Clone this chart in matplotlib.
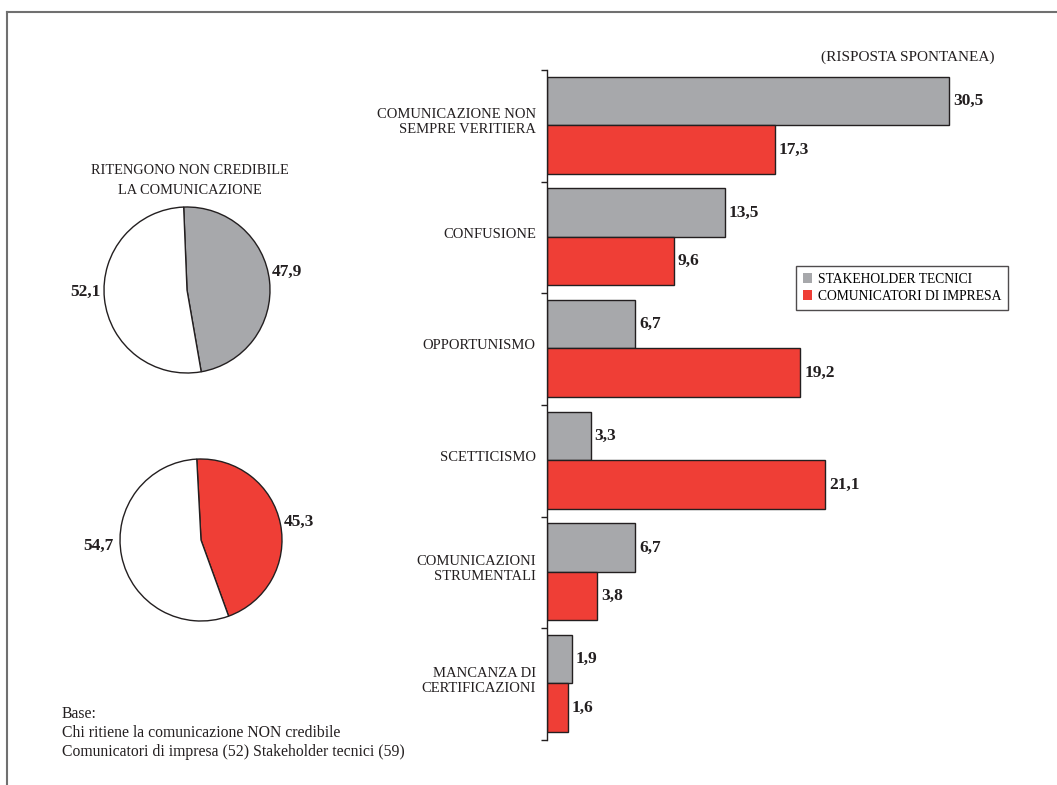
import matplotlib
matplotlib.use("Agg")
import matplotlib.pyplot as plt
from matplotlib.patches import Patch
from matplotlib.lines import Line2D
import numpy as np

plt.rcParams['font.family'] = ['Liberation Serif', 'DejaVu Serif']

categories = ["COMUNICAZIONE NON\nSEMPRE VERITIERA", "CONFUSIONE", "OPPORTUNISMO",
              "SCETTICISMO", "COMUNICAZIONI\nSTRUMENTALI", "MANCANZA DI\nCERTIFICAZIONI"]
stakeholder = [30.5, 13.5, 6.7, 3.3, 6.7, 1.9]
comunicatori = [17.3, 9.6, 19.2, 21.1, 3.8, 1.6]
series_names = ["STAKEHOLDER TECNICI", "COMUNICATORI DI IMPRESA"]

pie_stake = [47.9, 52.1]
pie_comm = [45.3, 54.7]

base_lines = ["Base:", "Chi ritiene la comunicazione NON credibile",
              "Comunicatori di impresa (52) Stakeholder tecnici (59)"]

GRAY = "#A7A8AB"
RED = "#EF3E36"
EDGE = "#231F20"
TXT = "#231F20"

W, H = 1057, 785
fig = plt.figure(figsize=(W / 100, H / 100), dpi=100)

def fx(px):
    return px / W

def fy(py):
    return 1 - py / H

# frame lines
fig.add_artist(Line2D([fx(7), 1.0], [fy(12), fy(12)], color="#707070", lw=1.5))
fig.add_artist(Line2D([fx(7), fx(7)], [fy(12), 0.0], color="#707070", lw=1.5))

# ---- bar chart ----
ax = fig.add_axes([fx(547), fy(740), fx(1048) - fx(547), fy(70) - fy(740)])
y = np.arange(len(categories))
h = 0.435
ax.barh(y - 0.224, stakeholder, height=h, color=GRAY, edgecolor=EDGE, linewidth=1.0)
ax.barh(y + 0.211, comunicatori, height=h, color=RED, edgecolor=EDGE, linewidth=1.0)
ax.set_xlim(0, 38)
ax.set_ylim(len(categories) - 0.5, -0.5)
for s in ["top", "right", "bottom"]:
    ax.spines[s].set_visible(False)
ax.spines["left"].set_color(EDGE)
ax.spines["left"].set_linewidth(1.0)
ax.set_xticks([])
ax.set_yticks(np.arange(-0.5, len(categories), 1.0))
ax.set_yticklabels([])
ax.tick_params(axis="y", direction="out", length=4, width=1, color=EDGE)

def fmt(v):
    return f"{v:.1f}".replace(".", ",")

for i, v in enumerate(stakeholder):
    ax.text(v + 0.3, i - 0.224, fmt(v), va="center", ha="left",
            fontsize=12.5, fontweight="bold", color=TXT)
for i, v in enumerate(comunicatori):
    ax.text(v + 0.3, i + 0.211, fmt(v), va="center", ha="left",
            fontsize=12.5, fontweight="bold", color=TXT)

for i, c in enumerate(categories):
    ax.text(-0.85, i - 0.03, c, ha="right", va="center", fontsize=10.5, color=TXT,
            multialignment="right", linespacing=1.2)

fig.text(fx(908), fy(57), "(RISPOSTA SPONTANEA)", ha="center", va="center",
         fontsize=11, color=TXT)

handles = [Patch(facecolor=GRAY, edgecolor="none"), Patch(facecolor=RED, edgecolor="none")]
leg = fig.legend(handles, series_names, loc="upper left",
                 bbox_to_anchor=(fx(796), fy(266)), fontsize=9.8, frameon=True,
                 fancybox=False, edgecolor=EDGE, handlelength=0.7, handleheight=0.7,
                 handletextpad=0.4, borderpad=0.5, labelspacing=0.3, borderaxespad=0)
leg.get_frame().set_linewidth(1.0)

# ---- pies ----
def draw_pie(cx, cy, r, vals, color, start):
    pax = fig.add_axes([fx(cx - r), fy(cy + r), fx(2 * r), fy(cy - r) - fy(cy + r)])
    pax.pie(vals, colors=[color, "white"], startangle=start, counterclock=False,
            wedgeprops=dict(edgecolor=EDGE, linewidth=1.0))
    pax.set_xlim(-1, 1)
    pax.set_ylim(-1, 1)
    pax.set_aspect("auto")
    pax.axis("off")
    return pax

draw_pie(187, 290, 83, pie_stake, GRAY, 92.3)
draw_pie(201, 540, 81, pie_comm, RED, 93.0)

fig.text(fx(272), fy(272), fmt(pie_stake[0]), ha="left", va="center",
         fontsize=12.5, fontweight="bold", color=TXT)
fig.text(fx(101), fy(292), fmt(pie_stake[1]), ha="right", va="center",
         fontsize=12.5, fontweight="bold", color=TXT)
fig.text(fx(284), fy(522), fmt(pie_comm[0]), ha="left", va="center",
         fontsize=12.5, fontweight="bold", color=TXT)
fig.text(fx(113), fy(546), fmt(pie_comm[1]), ha="right", va="center",
         fontsize=12.5, fontweight="bold", color=TXT)

fig.text(fx(190), fy(170), "RITENGONO NON CREDIBILE", ha="center",
         va="center", fontsize=10.4, color=TXT)
fig.text(fx(190), fy(191), "LA COMUNICAZIONE", ha="center",
         va="center", fontsize=10.4, color=TXT)

for line, yy in zip(base_lines, [714, 733, 752]):
    fig.text(fx(62), fy(yy), line, ha="left", va="center", fontsize=11.3, color=TXT)

fig.savefig("out.png", dpi=100)
